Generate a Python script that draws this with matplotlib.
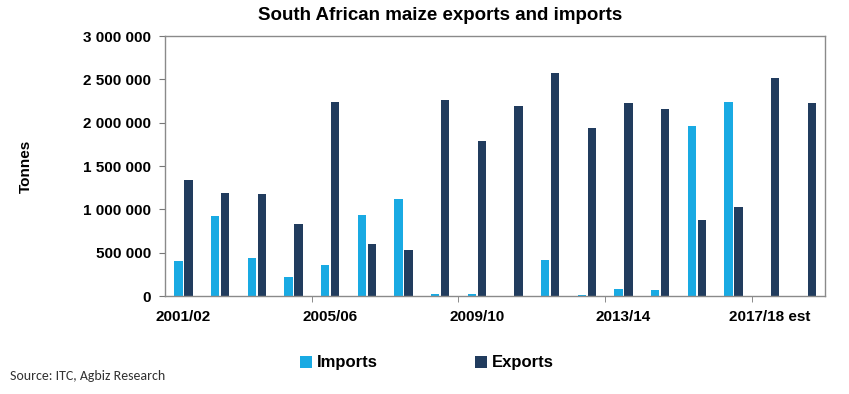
import numpy as np
import matplotlib.pyplot as plt
from matplotlib.ticker import FuncFormatter

seasons = ['2001/02', '2002/03', '2003/04', '2004/05', '2005/06', '2006/07',
           '2007/08', '2008/09', '2009/10', '2010/11', '2011/12', '2012/13',
           '2013/14', '2014/15', '2015/16', '2016/17', '2017/18 est', '2018/19']
imports = [400000, 925000, 440000, 215000, 360000, 930000, 1120000, 27000, 27000,
           0, 420000, 10000, 77000, 65000, 1960000, 2235000, 0, 0]
exports = [1333000, 1186000, 1182000, 828000, 2233000, 597000, 531000, 2264000,
           1794000, 2191000, 2568000, 1941000, 2230000, 2152000, 878000, 1024000,
           2518000, 2230000]

narrow = ['Liberation Sans Narrow', 'Liberation Sans', 'DejaVu Sans']
c_imp = '#19aae3'
c_exp = '#213c5e'

fig = plt.figure(figsize=(8.49, 3.94), dpi=100)
ax = fig.add_axes([165 / 849, 1 - 296 / 394, 660 / 849, 260 / 394])

x = np.arange(len(seasons))
w = 0.23
ax.bar(x - 0.135, imports, w, color=c_imp, label='Imports')
ax.bar(x + 0.14, exports, w, color=c_exp, label='Exports')

ax.set_xlim(-0.5, len(seasons) - 0.5)
ax.set_ylim(0, 3000000)
ax.set_yticks(np.arange(0, 3000001, 500000))
ax.yaxis.set_major_formatter(FuncFormatter(lambda v, p: f'{int(v):,}'.replace(',', ' ')))
ax.set_xticks(x[::4])
ax.set_xticklabels(seasons[::4])
ax.set_xticks(np.arange(3.5, len(seasons) - 1, 4), minor=True)
ax.tick_params(axis='x', which='major', length=0, pad=10)
ax.tick_params(axis='x', which='minor', length=4, color='#777777')
ax.tick_params(axis='y', length=4, color='#777777', pad=6)
for lab in ax.get_xticklabels() + ax.get_yticklabels():
    lab.set_family(narrow)
    lab.set_fontweight('bold')
    lab.set_fontsize(11)
for s in ax.spines.values():
    s.set_color('#8a8a8a')
    s.set_linewidth(1)

ax.set_ylabel('Tonnes', family=narrow, fontweight='bold', fontsize=11, labelpad=0)
ax.yaxis.set_label_coords(-0.2, 0.5)

fig.text(440 / 849, 1 - 16 / 394, 'South African maize exports and imports',
         ha='center', va='center', family=narrow, fontweight='bold', fontsize=13.5)

leg = fig.legend(loc='center', bbox_to_anchor=(427 / 849, 1 - 363 / 394), ncol=2,
                 frameon=False, columnspacing=5.85, handlelength=0.7, handleheight=0.7,
                 handletextpad=0.3, prop={'family': narrow, 'weight': 'bold', 'size': 12})

fig.text(10 / 849, 1 - 376 / 394, 'Source: ITC, Agbiz Research', ha='left', va='center',
         family=['Carlito', 'Open Sans', 'DejaVu Sans'], fontsize=10, color='#333333')

fig.savefig('out.png', dpi=100)
